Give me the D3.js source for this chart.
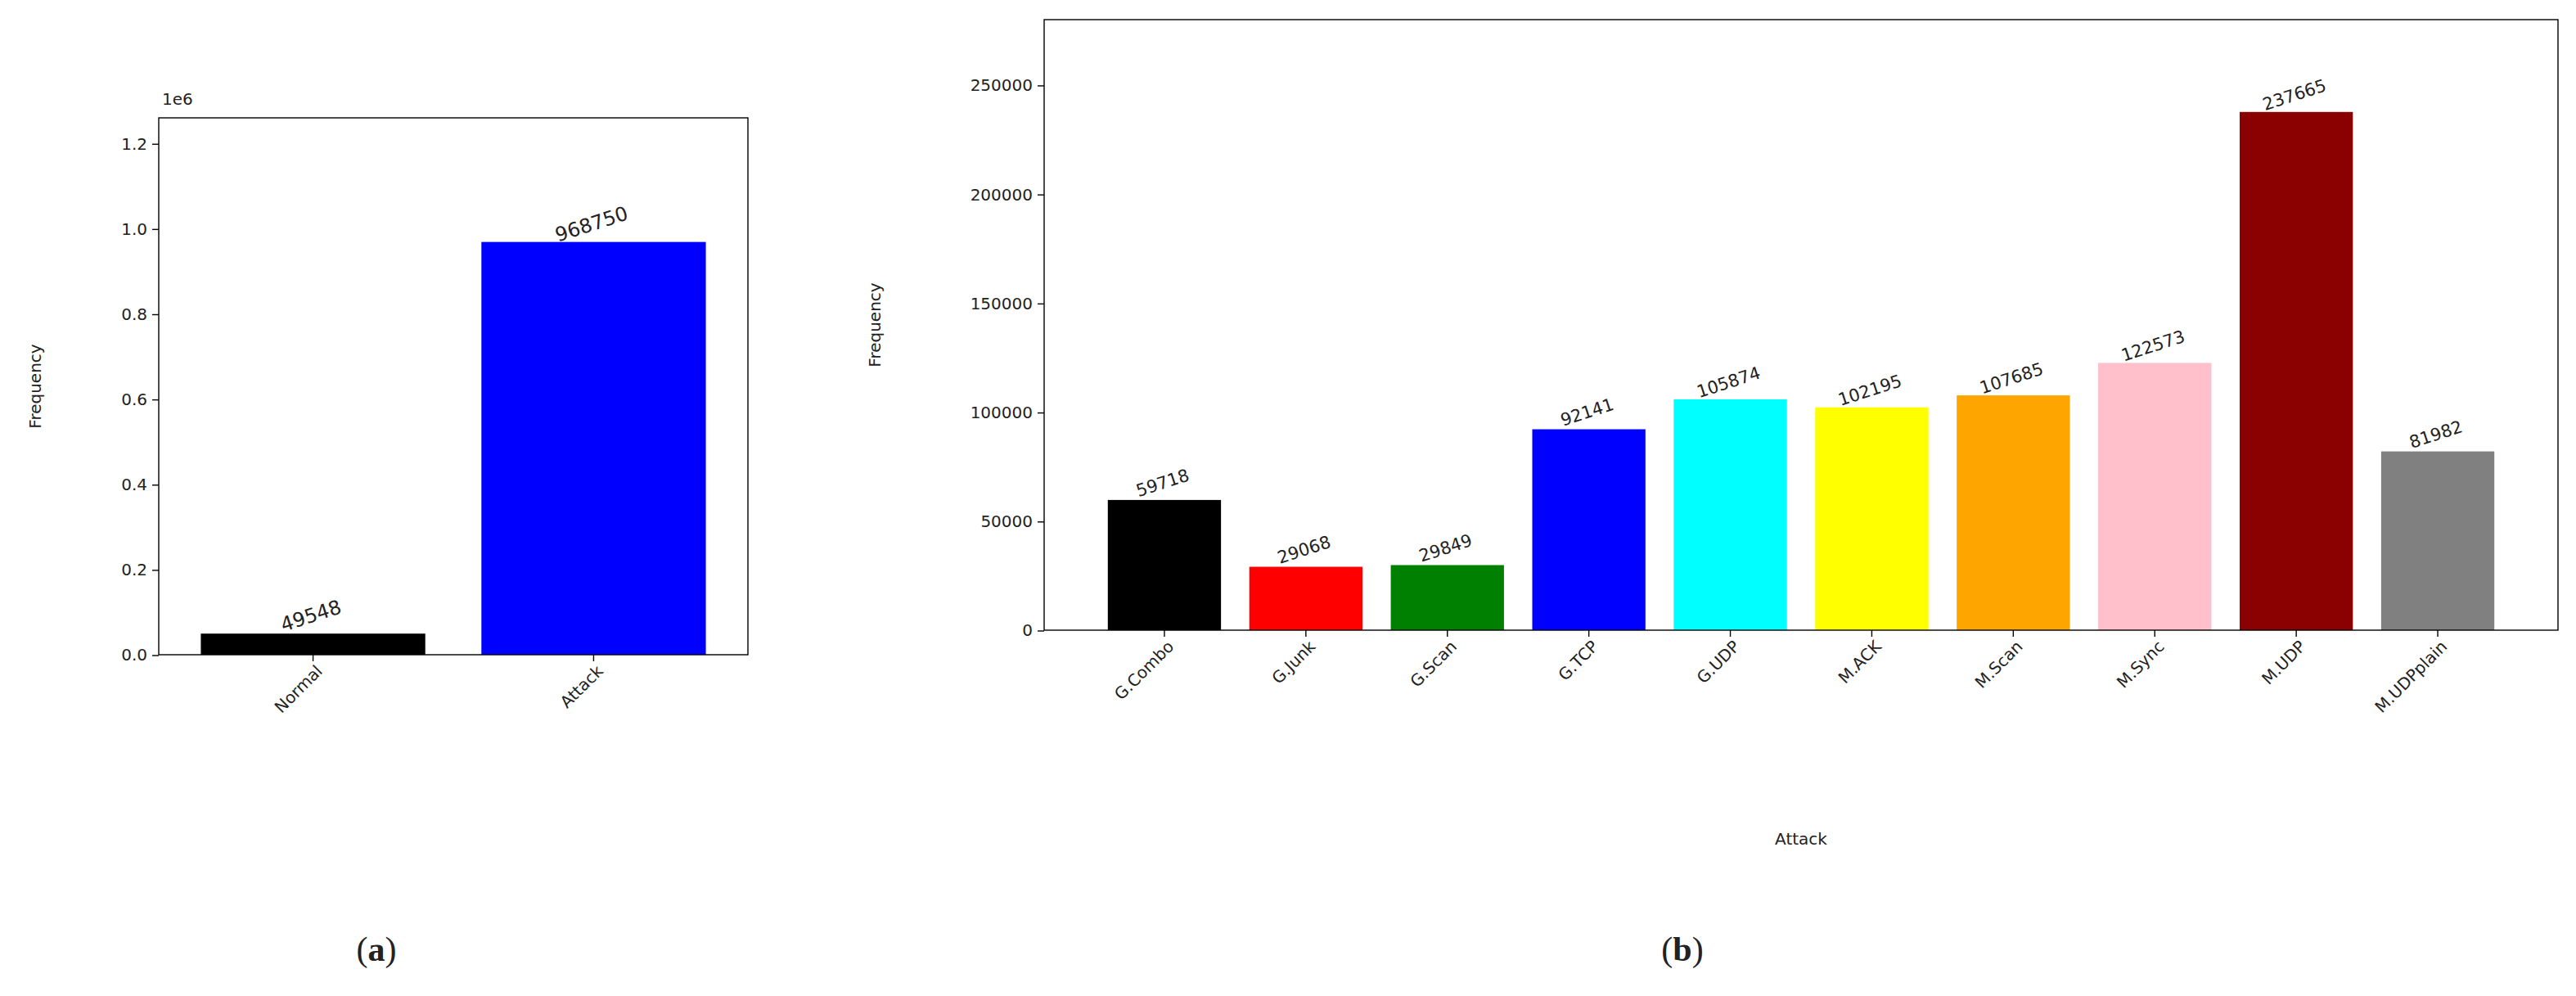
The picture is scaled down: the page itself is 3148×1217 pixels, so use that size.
<!DOCTYPE html>
<html><head><meta charset="utf-8">
<script src="https://cdn.jsdelivr.net/npm/d3@7"></script>
<style>body{margin:0;background:#fff}text{font-family:"DejaVu Sans",sans-serif;fill:#222}</style>
</head><body><svg id="c" width="3148" height="1217"></svg>
<script>
// data
const leftCats = ["Normal", "Attack"];
const leftVals = [49548, 968750];
const leftColors = ["black", "blue"];
const leftTicks = [0, 0.2e6, 0.4e6, 0.6e6, 0.8e6, 1.0e6, 1.2e6];

const rightCats = ["G.Combo", "G.Junk", "G.Scan", "G.TCP", "G.UDP", "M.ACK", "M.Scan", "M.Sync", "M.UDP", "M.UDPplain"];
const rightVals = [59718, 29068, 29849, 92141, 105874, 102195, 107685, 122573, 237665, 81982];
const rightColors = ["black", "red", "green", "blue", "cyan", "yellow", "orange", "pink", "darkred", "gray"];
const rightTicks = [0, 50000, 100000, 150000, 200000, 250000];

// layout below is in half-size units, scaled up 2x
const svg = d3.select("#c").append("g").attr("transform", "scale(2)");
const fs = 10;

function panel(o) {
    const g = svg.append("g");
    const x = d3.scaleBand().domain(o.cats).range([o.x0, o.x1]).paddingInner(o.pi).paddingOuter(o.po);
    const y = d3.scaleLinear().domain([0, o.ymax]).range([o.y1, o.y0]);

    g.selectAll("rect.bar").data(o.vals).join("rect")
        .attr("x", (d, i) => x(o.cats[i])).attr("width", x.bandwidth())
        .attr("y", d => y(d)).attr("height", d => y(0) - y(d))
        .attr("fill", (d, i) => o.colors[i]);

    g.selectAll("text.val").data(o.vals).join("text")
        .attr("transform", (d, i) => `translate(${x(o.cats[i]) + x.bandwidth() / 2},${y(d) - 7}) rotate(-18)`)
        .attr("text-anchor", "middle").attr("font-size", o.vfs).text(d => d);

    g.append("rect").attr("x", o.x0).attr("y", o.y0).attr("width", o.x1 - o.x0).attr("height", o.y1 - o.y0)
        .attr("fill", "none").attr("stroke", "#000").attr("stroke-width", 0.7);

    const ya = g.append("g").attr("transform", `translate(${o.x0},0)`)
        .call(d3.axisLeft(y).tickValues(o.ticks).tickFormat(o.fmt).tickSize(4).tickPadding(3));
    ya.select(".domain").remove();
    ya.selectAll("line").attr("stroke-width", 0.7);
    ya.selectAll("text").attr("font-size", fs).style("font-family", "DejaVu Sans").attr("fill", "#222");

    const xa = g.append("g").attr("transform", `translate(0,${o.y1})`)
        .call(d3.axisBottom(x).tickSize(4).tickPadding(2));
    xa.select(".domain").remove();
    xa.selectAll("line").attr("stroke-width", 0.7);
    xa.selectAll("text").attr("font-size", fs).style("font-family", "DejaVu Sans").attr("fill", "#222")
        .attr("text-anchor", "end").attr("dx", "-0.3em").attr("dy", "0.6em")
        .attr("transform", "rotate(-45)");

    g.append("text").attr("transform", `translate(${o.x0 - o.ylOff},${(o.y0 + o.y1) / 2}) rotate(-90)`)
        .attr("text-anchor", "middle").attr("font-size", fs).text("Frequency");
    return g;
}

const a = panel({cats: leftCats, vals: leftVals, colors: leftColors, ticks: leftTicks,
    x0: 97, x1: 457, y0: 72, y1: 400, ymax: 1.26e6, pi: 0.2, po: 0.15, vfs: 12,
    fmt: d => (d / 1e6).toFixed(1), ylOff: 72});
a.append("text").attr("x", 99).attr("y", 64).attr("font-size", fs).text("1e6");

const b = panel({cats: rightCats, vals: rightVals, colors: rightColors, ticks: rightTicks,
    x0: 638, x1: 1563, y0: 12, y1: 385, ymax: 280000, pi: 0.2, po: 0.45, vfs: 10.5,
    fmt: d3.format("d"), ylOff: 100});
b.append("text").attr("x", (638 + 1563) / 2).attr("y", 516).attr("text-anchor", "middle")
    .attr("font-size", fs).text("Attack");

svg.append("text").attr("x", 230).attr("y", 587).attr("text-anchor", "middle")
    .style("font-family", "Liberation Serif").attr("font-size", 21)
    .html('(<tspan font-weight="bold">a</tspan>)');
svg.append("text").attr("x", 1028).attr("y", 587).attr("text-anchor", "middle")
    .style("font-family", "Liberation Serif").attr("font-size", 21)
    .html('(<tspan font-weight="bold">b</tspan>)');
</script></body></html>
